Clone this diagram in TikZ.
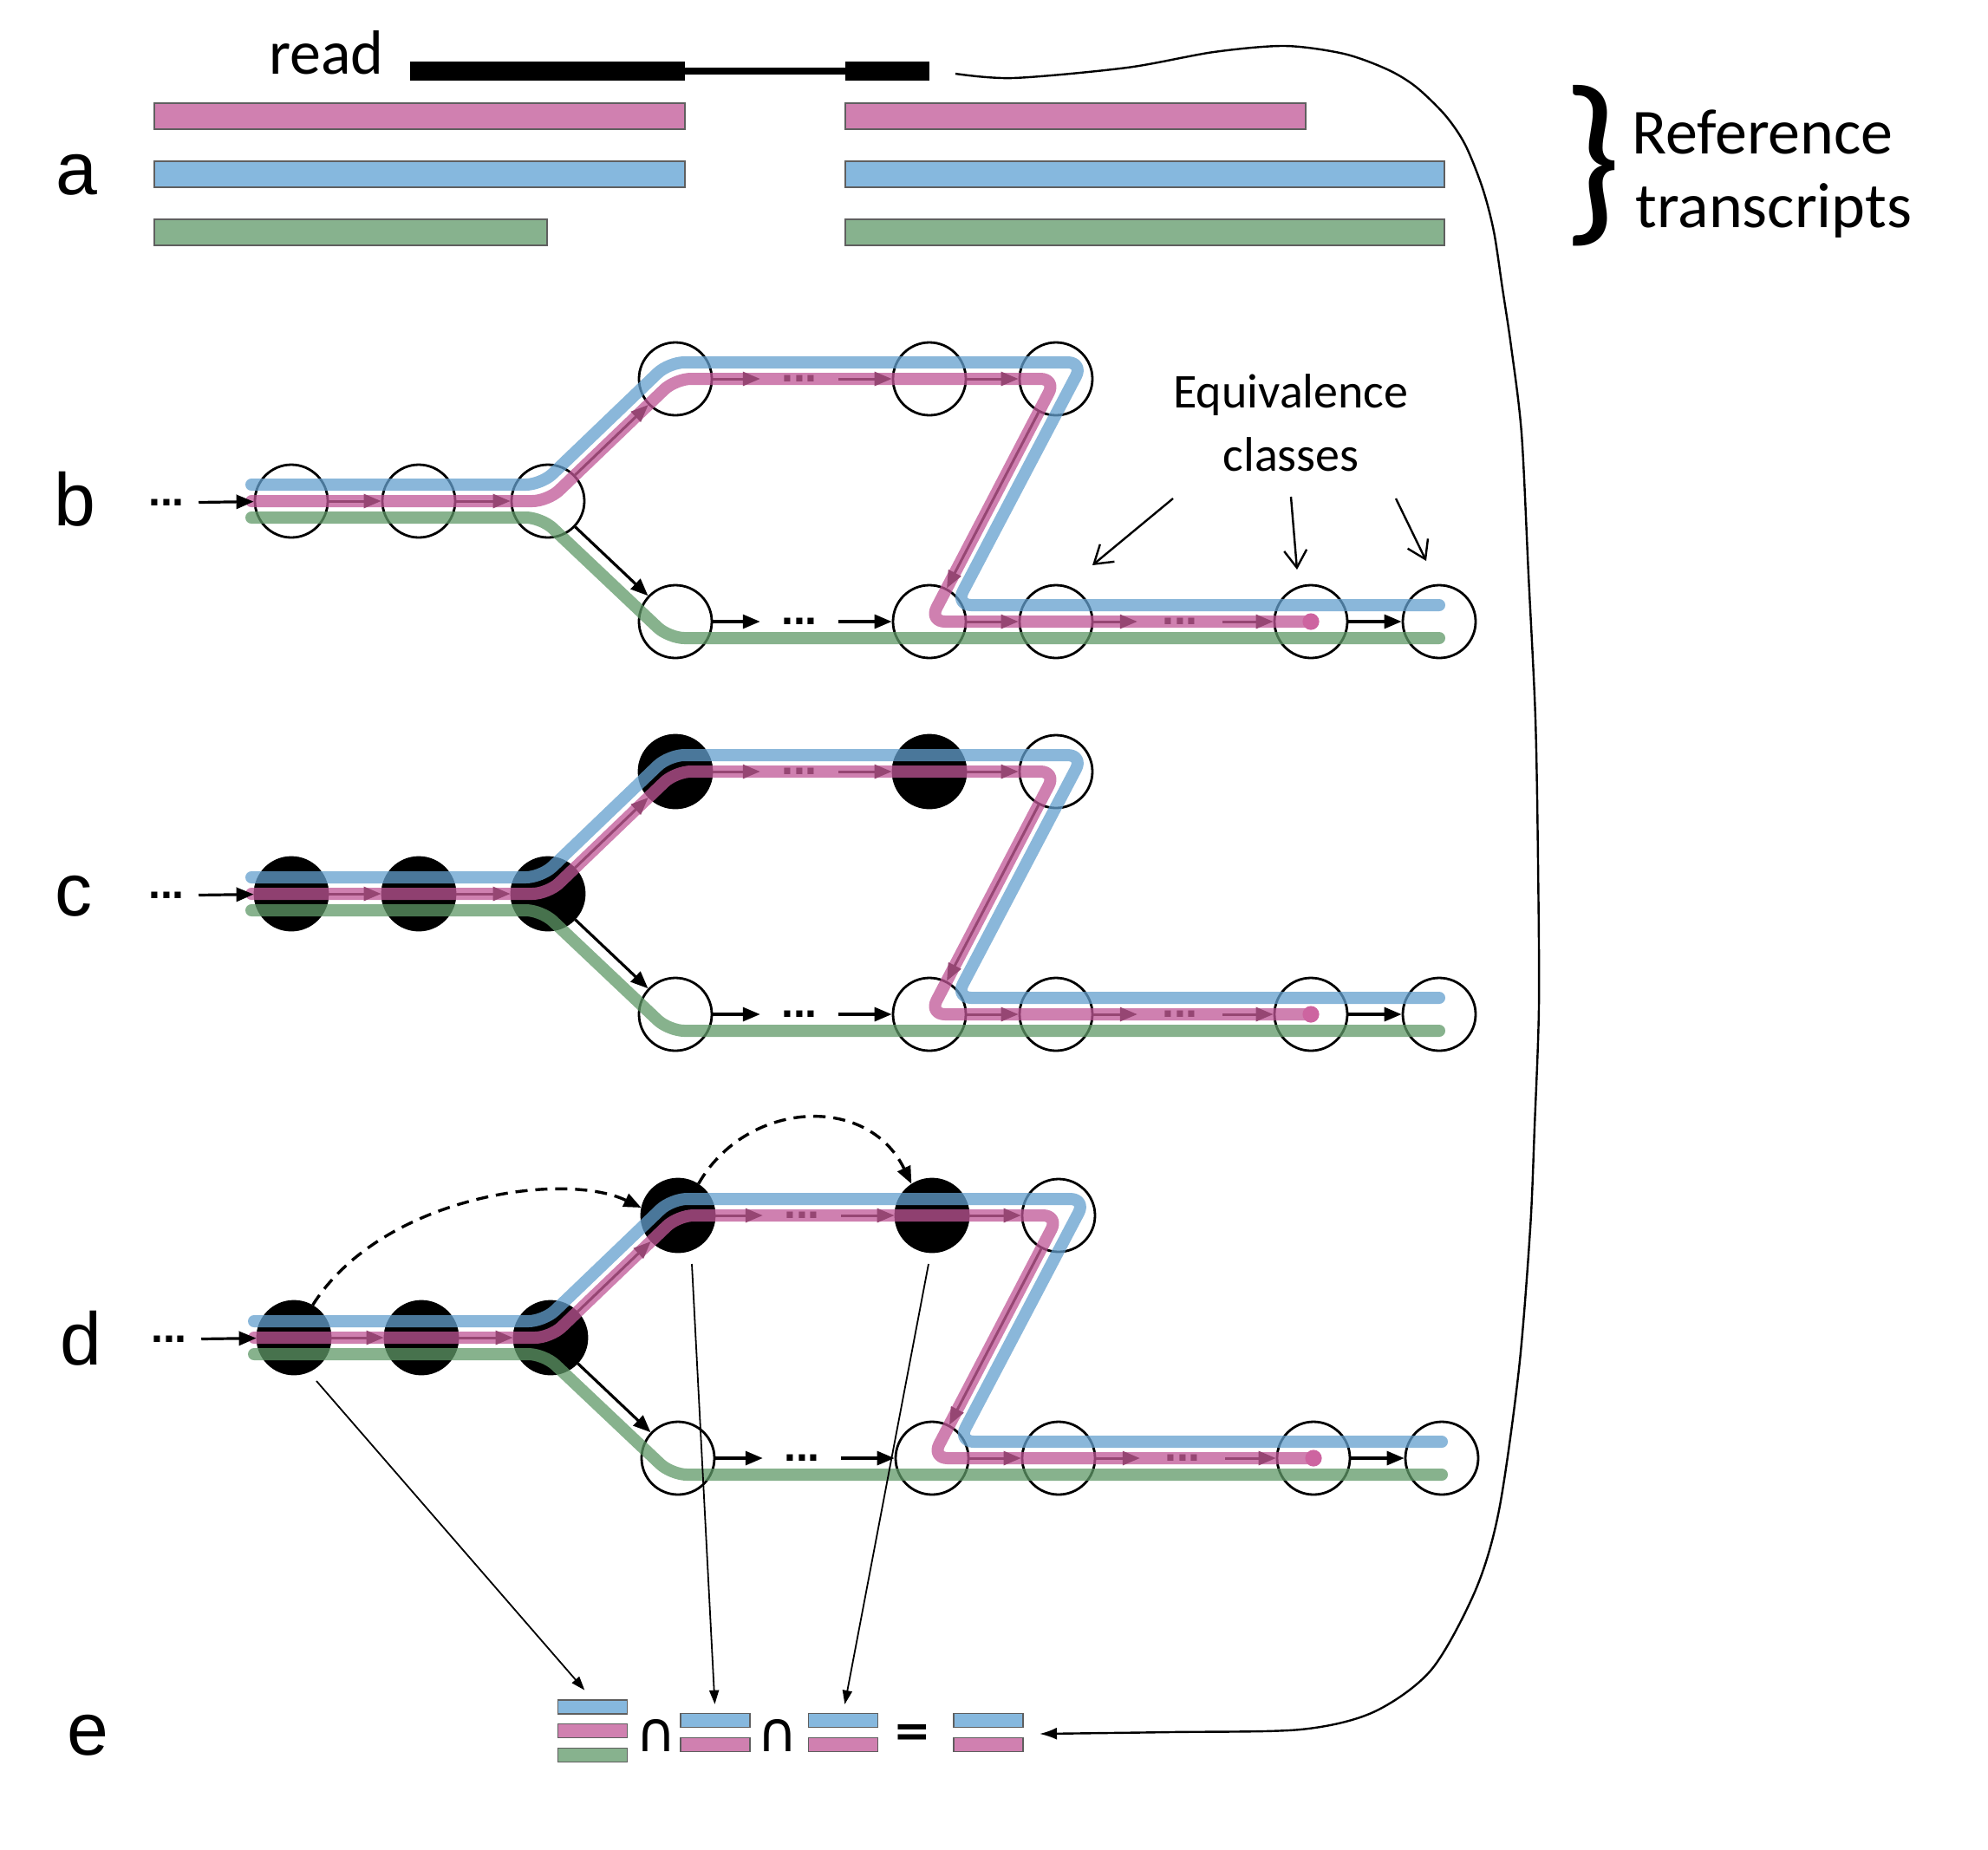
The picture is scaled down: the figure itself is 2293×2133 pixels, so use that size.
\documentclass[tikz,border=0pt]{standalone}
\usepackage{fontspec}
\setmainfont{Carlito}
\newfontfamily\labfont{Liberation Sans}
\newfontfamily\dvfont{DejaVu Sans}
\usetikzlibrary{arrows.meta}
\definecolor{lblue}{RGB}{100,160,206}
\definecolor{lpink}{RGB}{192,86,150}
\definecolor{lgreen}{RGB}{95,153,104}
\definecolor{bblue}{RGB}{134,184,222}
\definecolor{bpink}{RGB}{208,128,176}
\definecolor{bgreen}{RGB}{135,178,142}
\definecolor{bardraw}{RGB}{95,95,95}
\definecolor{pdark}{RGB}{150,70,115}
\definecolor{pdotc}{RGB}{205,100,160}
\tikzset{
  vtx/.style={circle, draw=black, line width=1.4pt, minimum size=42pt, inner sep=0pt},
  cpath/.style={line width=7pt, line cap=round, line join=round, rounded corners=9pt, draw opacity=0.75},
  cblue/.style={cpath, draw=lblue},
  cpink/.style={cpath, draw=lpink},
  cgreen/.style={cpath, draw=lgreen},
  parrow/.style={draw=pdark, line width=1.5pt, -{Triangle[length=10pt,width=8pt]}},
  barrow/.style={draw=black, line width=1.6pt, -{Triangle[length=10pt,width=8pt]}},
  dotsfont/.style={font={\labfont\bfseries\fontsize{25pt}{26pt}\selectfont}, inner ysep=0pt},
  edots/.style={dotsfont, inner xsep=8pt},
  mdots/.style={dotsfont, inner xsep=12pt},
  lab/.style={font={\labfont\fontsize{43pt}{50pt}\selectfont}, inner sep=0pt, anchor=base west},
  cal/.style={font={\fontsize{36pt}{40pt}\selectfont}, inner sep=0pt},
  eqtext/.style={font={\fontsize{28pt}{32pt}\selectfont}, inner sep=0pt, anchor=base},
  ebar/.style={rectangle, draw=bardraw, line width=0.8pt, minimum width=40pt, minimum height=8pt, inner sep=0pt},
  abar/.style={draw=bardraw, line width=0.8pt},
  eqarrow/.style={line width=1.2pt, -{Straight Barb[length=10pt,width=13pt,line width=1.2pt]}},
  thinarrow/.style={line width=0.9pt, -{Triangle[length=8pt,width=5.5pt]}},
  dasharrow/.style={line width=1.7pt, dash pattern=on 7pt off 4.5pt, -{Triangle[length=10pt,width=8pt]}},
  opsym/.style={font={\dvfont\fontsize{32pt}{34pt}\selectfont}, inner sep=0pt},
}
\newcommand{\mypanel}[2]{%
  \node[vtx,#2] (#1m1) at (336,0) {};
  \node[vtx,#2] (#1m2) at (483,0) {};
  \node[vtx,#2] (#1m3) at (632,0) {};
  \node[vtx,#2] (#1t1) at (779,-141) {};
  \node[vtx,#2] (#1t2) at (1072,-141) {};
  \node[vtx] (#1t3) at (1218,-141) {};
  \node[vtx] (#1b1) at (779,139) {};
  \node[vtx] (#1b2) at (1072,139) {};
  \node[vtx] (#1b3) at (1218,139) {};
  \node[vtx] (#1b4) at (1512,139) {};
  \node[vtx] (#1b5) at (1660,139) {};
  \draw[cblue] (290,-19) -- (624.4,-19) -- (771.4,-160) -- (1249.4,-160) -- (1102.3,120) -- (1660,120);
  \draw[cgreen] (290,19) -- (624.5,19) -- (771.5,158) -- (1660,158);
  \draw[cpink] (290,0) -- (632,0) -- (779,-141) -- (1218,-141) -- (1072,139) -- (1512,139);
  \fill[pdotc] (1512,139) circle[radius=4.8pt];
  \node[edots] (#1ed) at (192,2) {...};
  \node[mdots, text=pdark] (#1td) at (922,-141) {...};
  \node[mdots] (#1bd1) at (922,139) {...};
  \node[mdots, inner xsep=14pt, text=pdark] (#1bd2) at (1361,139) {...};
  \draw[barrow] (#1ed) -- (#1m1);
  \draw[parrow] (#1m1) -- (#1m2);
  \draw[parrow] (#1m2) -- (#1m3);
  \draw[parrow] (#1m3) -- (#1t1);
  \draw[parrow] (#1t1) -- (#1td);
  \draw[parrow] (#1td) -- (#1t2);
  \draw[parrow] (#1t2) -- (#1t3);
  \draw[parrow] (#1t3) -- (#1b2);
  \draw[parrow] (#1b2) -- (#1b3);
  \draw[parrow] (#1b3) -- (#1bd2);
  \draw[parrow] (#1bd2) -- (#1b4);
  \draw[barrow] (#1m3) -- (#1b1);
  \draw[barrow] (#1b1) -- (#1bd1);
  \draw[barrow] (#1bd1) -- (#1b2);
  \draw[barrow] (#1b4) -- (#1b5);
}
\begin{document}
\begin{tikzpicture}[x=0.5pt,y=-0.5pt]
\useasboundingbox (0,0) rectangle (2293,2133);
\fill[white] (0,0) rectangle (2293,2133);

% ---------- panel a ----------
\node[lab] (la) at (64,224) {a};
\node[cal, anchor=base west] (readtxt) at (310,85) {read};
\fill[black] (473,71) rectangle (790,93);
\fill[black] (790,78) rectangle (975,86);
\fill[black] (975,71) rectangle (1072,93);
\coordinate (readend) at (1102,85);
\filldraw[abar, fill=bpink] (178,119) rectangle (790,149);
\filldraw[abar, fill=bpink] (975,119) rectangle (1506,149);
\filldraw[abar, fill=bblue] (178,186) rectangle (790,216);
\filldraw[abar, fill=bblue] (975,186) rectangle (1666,216);
\filldraw[abar, fill=bgreen] (178,253) rectangle (631,283);
\filldraw[abar, fill=bgreen] (975,253) rectangle (1666,283);
\node[font={\fontsize{108pt}{108pt}\selectfont}, inner sep=0pt] (brace) at (1836,191) {\}};
\node[cal, font={\fontsize{37pt}{40pt}\selectfont}, anchor=base west] (reftxt) at (1882,177) {Reference};
\node[cal, font={\fontsize{37pt}{40pt}\selectfont}, anchor=base west] (trtxt) at (1886,262) {transcripts};

% ---------- panels b, c, d ----------
\node[lab] (lb) at (62,606) {b};
\begin{scope}[shift={(0,578)}]
  \mypanel{b}{}
\end{scope}
\node[lab] (lc) at (63,1056) {c};
\begin{scope}[shift={(0,1031)}]
  \mypanel{c}{fill=black}
\end{scope}
\node[lab] (ld) at (69,1574) {d};
\begin{scope}[shift={(3,1543)}]
  \mypanel{d}{fill=black}
\end{scope}

% equivalence classes
\node[eqtext] (eqa) at (1489,470) {Equivalence};
\node[eqtext] (eqb) at (1489,543) {classes};
\coordinate (eq1s) at (1353,575); \coordinate (eq1e) at (1260,652);
\coordinate (eq2s) at (1489,573); \coordinate (eq2e) at (1496,657);
\coordinate (eq3s) at (1610,575); \coordinate (eq3e) at (1645,647);
\draw[eqarrow] (eq1s) -- (eq1e);
\draw[eqarrow] (eq2s) -- (eq2e);
\draw[eqarrow] (eq3s) -- (eq3e);

% dashed arrows in d
\draw[dasharrow] (dm1.60) .. controls (440,1380) and (650,1350) .. (dt1.168);
\draw[dasharrow] (dt1.57) .. controls (860,1270) and (1000,1260) .. (dt2.123);

% ---------- panel e ----------
\node[lab] (le) at (77,2024) {e};
\node[ebar, fill=bblue] (g1b) at (683.5,1969) {};
\node[ebar, fill=bpink] (g1p) at (683.5,1996.5) {};
\node[ebar, fill=bgreen] (g1g) at (683.5,2024.5) {};
\node[opsym] (cap1) at (757,2002) {∩};
\node[ebar, fill=bblue] (g2b) at (825,1984.5) {};
\node[ebar, fill=bpink] (g2p) at (825,2012.5) {};
\node[opsym] (cap2) at (897,2002) {∩};
\node[ebar, fill=bblue] (g3b) at (972.5,1984.5) {};
\node[ebar, fill=bpink] (g3p) at (972.5,2012.5) {};
\node[opsym, font={\dvfont\bfseries\fontsize{26pt}{28pt}\selectfont}] (eqs) at (1052,2002) {=};
\node[ebar, fill=bblue] (g4b) at (1140,1984.5) {};
\node[ebar, fill=bpink] (g4p) at (1140,2012.5) {};

% thin arrows d -> e
\coordinate (ds1) at (365,1593);
\coordinate (ds2) at (798,1458);
\coordinate (ds3) at (1071,1458);
\draw[thinarrow, shorten >=7pt] (ds1) -- (g1b.north);
\draw[thinarrow, shorten >=5pt] (ds2) -- (g2b.north);
\draw[thinarrow, shorten >=5pt] (ds3) -- (g3b.north);

% big curve from read to result
\coordinate (resend) at (1199,2000);
\draw[line width=1.2pt, -{Latex[length=10pt,width=7pt]}] plot[smooth, tension=0.5] coordinates {
 (readend) (1169,90) (1300,78) (1400,60) (1482,53) (1550,62) (1600,80) (1633,100)
 (1667,133) (1690,167) (1710,217) (1723,267) (1733,333) (1743,400) (1755,500)
 (1763,663) (1771,829) (1774,995) (1775,1161) (1770,1300) (1765,1417) (1752,1579)
 (1729,1742) (1702,1834) (1651,1926) (1584,1975) (1500,1995) (1350,1998) (resend)};
\end{tikzpicture}
\end{document}
